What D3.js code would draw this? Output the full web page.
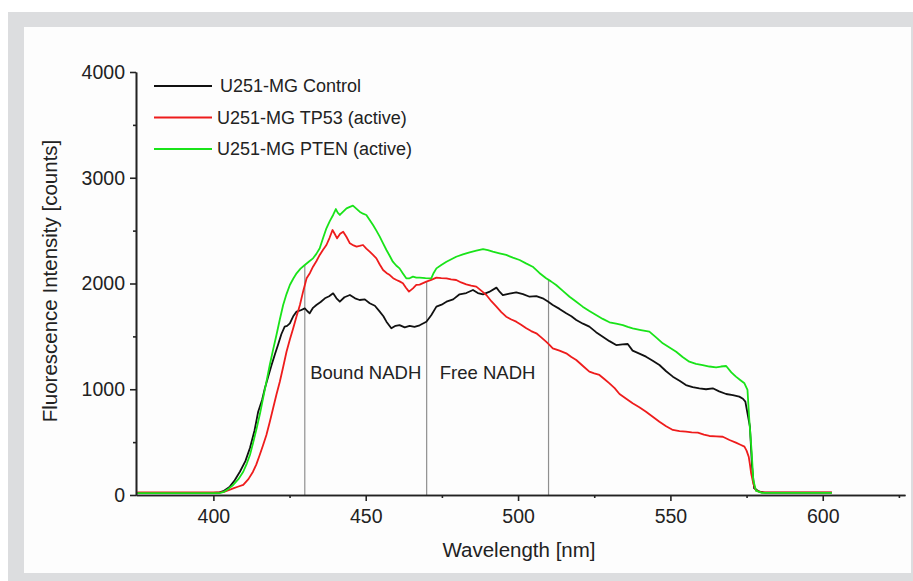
<!DOCTYPE html>
<html lang="en">
<head>
  <meta charset="UTF-8">
  <title>NADH fluorescence spectra</title>
  <style>
    body { margin: 0; background: #fff; }
    svg text { font-family: "Liberation Sans", Arial, sans-serif; fill: #222; }
  </style>
</head>
<body>
  <div id="chart"></div>
  <script src="https://d3js.org/d3.v7.min.js"></script>
  <script>
// spectra: [wavelength nm, counts]
const control = [[375,20],[400,20],[402,24],[403.5,40],[405.4,79],[407,140],[408.7,220],[410.5,320],[412,444],[413.5,610],[414.7,788],[416,900],[416.9,1009],[418,1120],[419.1,1229],[420.2,1330],[421.2,1418],[422.3,1520],[423.4,1592],[424.2,1600],[425.1,1623],[426.2,1690],[427.3,1734],[428.5,1745],[430,1765],[430.8,1740],[431.6,1718],[432.7,1770],[433.8,1797],[435.2,1825],[436.6,1860],[438,1880],[439.3,1907],[440.4,1860],[441.5,1828],[443,1870],[444.8,1891],[446.5,1860],[448,1844],[449.7,1850],[451.3,1813],[453,1790],[454.6,1734],[455.8,1690],[456.8,1639],[458.4,1576],[459.8,1600],[461.1,1607],[462.8,1585],[464.4,1600],[466,1590],[467.7,1605],[469.9,1639],[471.5,1700],[473.2,1781],[474.9,1800],[476.5,1828],[478.7,1850],[480.8,1898],[483,1910],[485.2,1939],[486.8,1910],[488.5,1898],[490.5,1920],[492.9,1961],[494,1920],[495,1891],[497.2,1905],[499.4,1916],[501.6,1900],[503.8,1875],[506,1880],[508.1,1860],[509.8,1830],[511.4,1797],[513.6,1760],[515.8,1718],[517.5,1690],[519.1,1655],[521.3,1620],[523.4,1592],[525.6,1540],[527.8,1497],[530,1455],[532.2,1418],[534.3,1425],[536,1428],[537.6,1365],[540,1335],[542,1308],[544.2,1270],[546.4,1229],[548.6,1170],[550.8,1119],[553,1080],[555.1,1040],[557.3,1020],[559.5,1009],[561.7,1000],[563.9,1009],[566,980],[568.3,955],[570.5,945],[572.6,930],[573.8,910],[574.6,883],[575.3,773],[576.1,646],[576.8,268],[577.5,63],[579.2,31],[581,22],[603,22]]

const tp53 = [[375,25],[402,25],[403.5,30],[405,45],[406.5,63],[408,78],[409.8,95],[411.5,150],[413,220],[414.1,290],[415.2,378],[416.3,470],[417.4,567],[418.5,690],[419.6,820],[420.7,950],[421.8,1071],[422.9,1210],[424,1355],[425.1,1470],[426.2,1576],[427.3,1690],[428.4,1797],[429.5,1930],[430.6,2049],[431.7,2100],[432.7,2159],[433.8,2210],[434.9,2270],[436,2320],[437.1,2364],[438.1,2430],[439.1,2506],[439.8,2470],[440.6,2427],[441.6,2470],[442.6,2490],[443.7,2440],[444.8,2380],[446,2360],[447,2348],[448,2355],[449.1,2364],[450.2,2330],[451.3,2301],[452.4,2270],[453.5,2238],[454.6,2180],[455.7,2128],[456.8,2100],[457.9,2080],[459,2050],[460.1,2033],[461.1,2020],[462.2,2002],[463.2,1960],[464.2,1923],[465.5,1954],[466.6,1986],[467.7,1990],[469.9,2017],[471.5,2035],[473.2,2055],[474.8,2050],[476.5,2049],[478,2040],[479.7,2033],[481.3,2010],[483,1992],[484.6,1980],[486.3,1970],[488,1930],[489.6,1891],[491.3,1830],[492.9,1781],[494.5,1730],[496.1,1686],[497.8,1660],[499.4,1639],[501,1610],[502.7,1576],[504.3,1550],[506,1529],[507.6,1490],[509.2,1450],[510.3,1420],[511.4,1387],[513.6,1365],[515.8,1340],[517.5,1305],[519.1,1277],[521.3,1220],[523.4,1166],[525,1150],[526.7,1135],[528.4,1095],[530,1056],[531.7,1010],[533.3,955],[535.5,910],[537.6,867],[539.8,830],[542,788],[544.2,740],[546.4,693],[548.6,650],[550.8,615],[553,605],[555.1,599],[557,592],[559,589],[561,570],[562.8,558],[565,555],[567.2,551],[569.4,520],[571.5,495],[573,475],[574.3,457],[575,420],[575.7,362],[576.1,290],[576.5,205],[577.2,110],[578.1,41],[580,25],[603,25]]

const pten = [[375,18],[402,18],[403.5,30],[405,60],[406.5,95],[408.2,150],[409.8,220],[411,300],[412,378],[413.1,500],[414.2,630],[415.3,770],[416.3,914],[417.4,1070],[418.5,1229],[419.6,1375],[420.7,1513],[421.8,1660],[422.9,1797],[424,1900],[425.1,1986],[426.2,2045],[427.3,2096],[428.6,2140],[430,2175],[431.3,2205],[432.7,2238],[433.8,2280],[434.9,2333],[436,2430],[437.1,2522],[438.2,2590],[439.3,2648],[440.2,2704],[440.8,2670],[441.5,2648],[442.6,2680],[443.7,2711],[444.8,2725],[445.8,2736],[447,2705],[448,2679],[449.1,2660],[450.2,2648],[451.3,2600],[452.4,2553],[453.5,2500],[454.6,2443],[455.7,2380],[456.8,2317],[457.9,2260],[458.9,2206],[460,2170],[461.1,2143],[462.2,2095],[463.3,2049],[464.4,2049],[465.5,2065],[466.6,2055],[467.7,2055],[469.6,2050],[471.5,2049],[472.3,2100],[473.2,2143],[474.8,2175],[476.5,2206],[478.1,2230],[479.7,2253],[481.9,2275],[484.1,2295],[486.3,2310],[488.5,2326],[490.1,2315],[491.7,2301],[493.9,2285],[496.1,2270],[498.3,2245],[500.5,2222],[502.6,2190],[504.8,2159],[507,2100],[509.2,2049],[510.8,2020],[512.5,1986],[514.7,1930],[516.9,1875],[519,1830],[521.2,1781],[523.4,1740],[525.6,1702],[527.8,1665],[530,1633],[532.2,1620],[534.4,1607],[536,1590],[537.6,1576],[540.3,1560],[543.1,1545],[545.3,1490],[547.5,1434],[549.7,1395],[551.9,1355],[554,1305],[556.2,1261],[558.4,1240],[560.6,1229],[562.8,1215],[565,1207],[566.6,1215],[568.3,1220],[570,1160],[571.5,1119],[573,1085],[574.3,1056],[575.3,993],[575.9,709],[576.7,394],[577.2,142],[578.1,41],[580,20],[603,20]]

const seriesNames = ['U251-MG Control', 'U251-MG TP53 (active)', 'U251-MG PTEN (active)']
const seriesColors = ['#111111', '#ee1c1c', '#19e319']

// region markers
const markerWl = [430, 470, 510]
const markerTop = [2175, 2020, 2035]
const regionLabels = [{text: 'Bound NADH', wl: 450}, {text: 'Free NADH', wl: 490}]
const regionLabelY = 1100

const xTicks = [400, 450, 500, 550, 600]
const xMinor = [425, 475, 525, 575, 625]
const yTicks = [0, 1000, 2000, 3000, 4000]
const yMinor = [500, 1500, 2500, 3500]

const width = 913, height = 581

const svg = d3.select('#chart').append('svg')
  .attr('width', width)
  .attr('height', height)

// grey frame with white panel
svg.append('rect').attr('x', 8).attr('y', 12).attr('width', 905).attr('height', 569).attr('fill', '#dcdddf')
svg.append('rect').attr('x', 24).attr('y', 27).attr('width', 887).attr('height', 546).attr('fill', '#fdfdfd')

const x = d3.scaleLinear().domain([374.6, 627]).range([136, 905])
const y = d3.scaleLinear().domain([0, 4000]).range([495, 72])

// marker lines first so curves sit on top
svg.append('g')
  .selectAll('line')
  .data(markerWl)
  .join('line')
    .attr('x1', d => x(d)).attr('x2', d => x(d))
    .attr('y1', (d, i) => y(markerTop[i]))
    .attr('y2', y(0))
    .attr('stroke', '#8f8f8f')
    .attr('stroke-width', 1.2)

svg.append('g')
  .selectAll('text')
  .data(regionLabels)
  .join('text')
    .attr('x', d => x(d.wl))
    .attr('y', y(regionLabelY))
    .attr('text-anchor', 'middle')
    .style('font-size', '18.5px')
    .text(d => d.text)

const line = d3.line()
  .x(d => x(d[0]))
  .y(d => y(d[1]))

svg.append('g')
  .selectAll('path')
  .data([control, tp53, pten])
  .join('path')
    .attr('d', line)
    .attr('fill', 'none')
    .attr('stroke', (d, i) => seriesColors[i])
    .attr('stroke-width', 1.8)
    .attr('stroke-linejoin', 'round')

// axes
svg.append('g')
  .attr('transform', `translate(0,${y(0)})`)
  .call(d3.axisBottom(x).tickValues(xTicks).tickSize(6).tickSizeOuter(0).tickPadding(8))
svg.append('g')
  .attr('transform', `translate(0,${y(0)})`)
  .call(d3.axisBottom(x).tickValues(xMinor).tickSize(3).tickSizeOuter(0).tickFormat(''))

svg.append('g')
  .attr('transform', `translate(${x.range()[0]},0)`)
  .call(d3.axisLeft(y).tickValues(yTicks).tickFormat(d3.format('d')).tickSize(6).tickSizeOuter(0).tickPadding(5))
svg.append('g')
  .attr('transform', `translate(${x.range()[0]},0)`)
  .call(d3.axisLeft(y).tickValues(yMinor).tickSize(3).tickSizeOuter(0).tickFormat(''))

svg.selectAll('.domain, .tick line').attr('stroke', '#222').attr('stroke-width', 1.6)
svg.selectAll('.tick text').style('font-size', '19.5px').style('font-family', '"Liberation Sans", Arial, sans-serif').attr('fill', '#222')

// axis titles
svg.append('text')
  .attr('x', 519).attr('y', 557)
  .attr('text-anchor', 'middle')
  .style('font-size', '20.5px')
  .text('Wavelength [nm]')

svg.append('text')
  .attr('transform', 'translate(57,281) rotate(-90)')
  .attr('text-anchor', 'middle')
  .style('font-size', '20.5px')
  .text('Fluorescence Intensity [counts]')

// legend
const legend = svg.append('g')
  .selectAll('g')
  .data(seriesNames)
  .join('g')
    .attr('transform', (d, i) => `translate(154,${86 + i * 31.5})`)
legend.append('line')
  .attr('x1', 0).attr('x2', 58)
  .attr('stroke', (d, i) => seriesColors[i])
  .attr('stroke-width', 1.8)
legend.append('text')
  .attr('x', (d, i) => i === 0 ? 66 : 63)
  .attr('dy', '0.35em')
  .style('font-size', '18px')
  .text(d => d)
  </script>
</body>
</html>
